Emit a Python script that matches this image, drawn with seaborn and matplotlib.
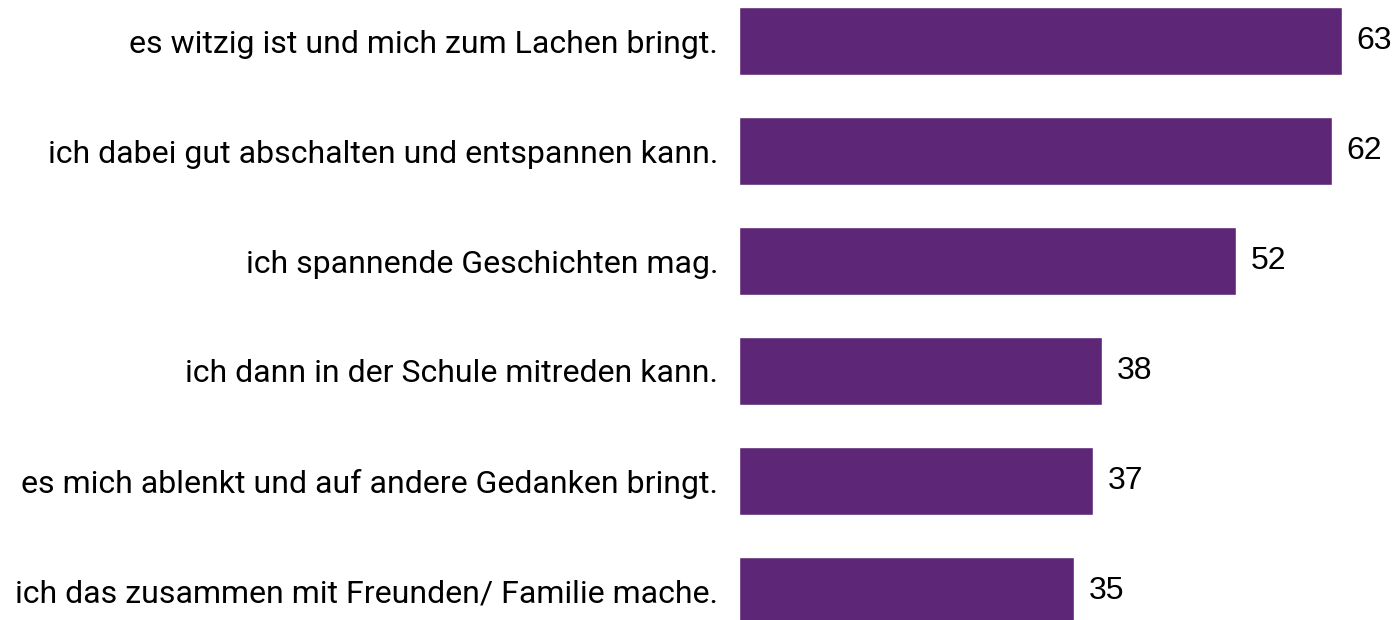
import pandas as pd
import matplotlib.pyplot as plt
import seaborn as sns

# data
reasons = [
    'es witzig ist und mich zum Lachen bringt.',
    'ich dabei gut abschalten und entspannen kann.',
    'ich spannende Geschichten mag.',
    'ich dann in der Schule mitreden kann.',
    'es mich ablenkt und auf andere Gedanken bringt.',
    'ich das zusammen mit Freunden/ Familie mache.',
]
values = [63, 62, 52, 38, 37, 35]

df = pd.DataFrame({'reason': reasons, 'value': values})

sns.set_style('white')
plt.rcParams['font.family'] = ['Roboto', 'DejaVu Sans']

fig = plt.figure(figsize=(13.97, 6.2), dpi=100)
ax = fig.add_axes([739 / 1397, 0, 1 - 739 / 1397, 1])

sns.barplot(data=df, x='value', y='reason', orient='h', color='#5E2676',
            saturation=1, width=0.62, ax=ax)

ax.set_xlim(0, 68.8)
ax.set_ylim(5.264, -0.373)
ax.set_xlabel('')
ax.set_ylabel('')
ax.set_xticks([])
ax.tick_params(axis='y', length=0, pad=15, labelsize=23, labelcolor='black')
for s in ax.spines.values():
    s.set_visible(False)

# value labels at the bar ends
for i, v in enumerate(values):
    ax.annotate(str(v), xy=(v, i), xytext=(10.5, 0), textcoords='offset points',
                va='center', ha='left', fontsize=23, color='black',
                family=['Liberation Sans', 'DejaVu Sans'])

fig.savefig('out.png', dpi=100)
